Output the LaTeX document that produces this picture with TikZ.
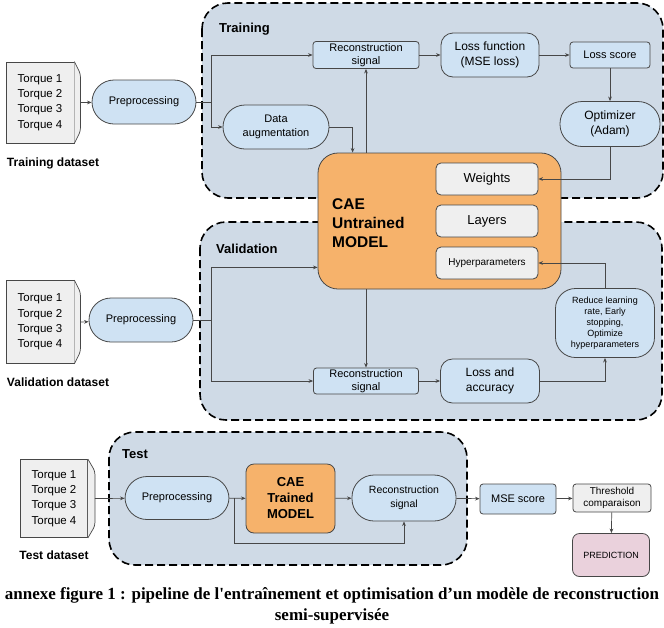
\documentclass[tikz,border=0pt]{standalone}
\usepackage{fontspec}
\setmainfont{Liberation Sans}
\newfontfamily\capfont{Liberation Serif}
\usepackage{tikz}
\usetikzlibrary{calc,arrows.meta,positioning}
\definecolor{bluex}{HTML}{CFE2F3}
\definecolor{greyx}{HTML}{EFEFEF}
\definecolor{orangex}{HTML}{F6B26B}
\definecolor{pinkx}{HTML}{EAD1DC}
\definecolor{panel}{HTML}{CFDAE6}
\definecolor{linex}{HTML}{474747}
\tikzset{
  ar/.style={-{Stealth[length=1.6mm,width=1.3mm]},line width=0.7pt,linex},
  ln/.style={line width=0.7pt,linex},
  panelbox/.style={draw=black,fill=panel,line width=1.6pt,dash pattern=on 8pt off 4pt,rounded corners=26pt},
  box/.style={draw=linex,line width=0.8pt,fill=bluex,align=center,inner sep=0pt,rounded corners=3pt,font=\fontsize{11}{13.5}\selectfont},
  pill/.style={box,rounded corners=22pt,minimum width=104pt,minimum height=44pt},
  data/.style={draw=linex,line width=0.8pt,fill=greyx,align=left,minimum width=68pt,minimum height=81pt,inner sep=0pt,font=\fontsize{11.5}{15.2}\selectfont},
  inbox/.style={box,fill=greyx,rounded corners=5pt,minimum width=102pt,minimum height=32pt,font=\fontsize{13}{15}\selectfont},
  cae/.style={draw=linex,line width=0.8pt,fill=orangex,align=center,inner sep=0pt,rounded corners=20pt},
  ttl/.style={font=\fontsize{13}{15}\selectfont\bfseries,anchor=west,inner sep=0pt},
  lbl/.style={font=\fontsize{12}{14}\selectfont\bfseries,inner sep=0pt},
  f9/.style={font=\fontsize{9}{11}\selectfont},
  f10/.style={font=\fontsize{10}{12.5}\selectfont},
  f12/.style={font=\fontsize{12}{15.5}\selectfont}
}

\begin{document}
\begin{tikzpicture}[x=1pt,y=-1pt]
\useasboundingbox (0,0) rectangle (664,627);
% panels
\draw[panelbox] (202,3) rectangle (663,198);
\draw[panelbox] (200,222) rectangle (662,420);
\draw[panelbox] (109,432) rectangle (467,565);
\node[ttl] at (219,29) {Training};
\node[ttl] at (216,249) {Validation};
\node[ttl] at (122,454) {Test};

% training
\node[data] (tdata) at (40,102.5) {Torque 1\\Torque 2\\Torque 3\\Torque 4};
\draw[ln,fill=greyx,rounded corners=3pt] (tdata.north east) -- ++(6,12) -- ($(tdata.south east)+(6,-12)$) -- (tdata.south east);
\coordinate (ttip) at ($(tdata.east)+(6,0)$);
\node[lbl] (tlab) at (53,163) {Training dataset};
\node[pill] (tpre) at (144,102) {Preprocessing};
\node[pill,minimum width=106pt] (taug) at (276,127) {Data\\augmentation};
\node[box,minimum width=106pt,minimum height=27pt] (trec) at (366,55) {Reconstruction\\signal};
\node[box,f12,rounded corners=12pt,minimum width=98pt,minimum height=44pt] (tloss) at (490,55) {Loss function\\(MSE loss)};
\node[box,minimum width=80pt,minimum height=26pt] (tscore) at (610,55) {Loss score};
\node[pill,f12,minimum width=100pt,minimum height=45pt] (topt) at (610,124) {Optimizer\\(Adam)};

% model
\node[cae,minimum width=243pt,minimum height=136pt] (cae) at (439.5,221) {};
\node[anchor=west,align=left,inner sep=0pt,font=\fontsize{15.5}{19}\selectfont\bfseries] (caetxt) at (332,223) {CAE\\Untrained\\MODEL};
\node[inbox] (wts) at (487,179) {Weights};
\node[inbox] (lay) at (487,221) {Layers};
\node[inbox,f10] (hyp) at (487,263) {Hyperparameters};

% validation
\node[data,minimum height=83pt] (vdata) at (40,322) {Torque 1\\Torque 2\\Torque 3\\Torque 4};
\draw[ln,fill=greyx,rounded corners=3pt] (vdata.north east) -- ++(6,12) -- ($(vdata.south east)+(6,-12)$) -- (vdata.south east);
\coordinate (vtip) at ($(vdata.east)+(6,0)$);
\node[lbl] (vlab) at (58,382) {Validation dataset};
\node[pill] (vpre) at (141,320) {Preprocessing};
\node[box,minimum width=105pt,minimum height=26pt] (vrec) at (366,381) {Reconstruction\\signal};
\node[box,f12,rounded corners=12pt,minimum width=99pt,minimum height=44pt] (vloss) at (490,381) {Loss and\\accuracy};
\node[box,f9,rounded corners=20pt,minimum width=99pt,minimum height=69pt] (vred) at (605,323) {Reduce learning\\rate, Early\\stopping,\\Optimize\\hyperparameters};

% test
\node[data,minimum width=67pt,minimum height=78pt] (sdata) at (54,498.5) {Torque 1\\Torque 2\\Torque 3\\Torque 4};
\draw[ln,fill=greyx,rounded corners=3pt] (sdata.north east) -- ++(7,12) -- ($(sdata.south east)+(7,-12)$) -- (sdata.south east);
\coordinate (stip) at ($(sdata.east)+(7,0)$);
\node[lbl] (slab) at (54,555) {Test dataset};
\node[pill,minimum height=43pt] (spre) at (177,498) {Preprocessing};
\node[cae,rounded corners=8pt,minimum width=89pt,minimum height=69pt,font=\fontsize{13}{16}\selectfont\bfseries] (scae) at (290.5,498.5) {CAE\\Trained\\MODEL};
\node[pill,minimum height=46pt,font=\fontsize{10.5}{13.5}\selectfont] (srec) at (404,498) {Reconstruction\\signal};
\node[box,minimum width=76pt,minimum height=30pt] (smse) at (518,499) {MSE score};
\node[box,f10,fill=greyx,minimum width=78pt,minimum height=28pt] (sthr) at (612,498) {Threshold\\comparaison};
\node[box,f9,fill=pinkx,rounded corners=7pt,minimum width=77pt,minimum height=43pt] (spred) at (611,555) {PREDICTION};

% training links
\coordinate (tsplit) at (211,102);
\draw[ar] (ttip) -- (tpre);
\draw[ln] (tpre.east) -- (tsplit);
\draw[ar] (tsplit) |- (trec.west);
\draw[ar] (tsplit) |- (taug.west);
\draw[ar] (taug.east) -| ($(cae.north west)+(35,0)$);
\draw[ar] (cae.north -| trec.south) -- (trec.south);
\draw[ar] (trec) -- (tloss);
\draw[ar] (tloss) -- (tscore);
\draw[ar] (tscore) -- (topt);
\draw[ar] (topt.south) |- (wts.east);

% validation links
\coordinate (vsplit) at (211,320);
\draw[ar] (vtip) -- (vpre);
\draw[ln] (vpre.east) -- (vsplit);
\draw[ar] (vsplit) |- ($(cae.south west)+(0,-22)$);
\draw[ar] (vsplit) |- (vrec.west);
\draw[ar] (cae.south -| vrec.north) -- (vrec.north);
\draw[ar] (vrec) -- (vloss);
\draw[ar] (vloss.east) -| (vred.south);
\draw[ar] (vred.north) |- (hyp.east);

% test links
\draw[ar] (stip) -- (spre);
\draw[ar] (spre) -- (scae);
\draw[ar] ($(spre.east)+(5,0)$) -- ++(0,45) -| (srec.south);
\draw[ar] (scae) -- (srec);
\draw[ar] (srec) -- (smse);
\draw[ar] (smse) -- (sthr);
\draw[ar] (sthr) -- (spred);

% caption
\node[align=center,inner sep=0pt,font=\capfont\bfseries\fontsize{17}{21}\selectfont] (cap) at (332,606) {annexe figure 1 : pipeline de l\textquotesingle entraînement et optimisation d’un modèle de reconstruction\\semi-supervisée};
\end{tikzpicture}
\end{document}
